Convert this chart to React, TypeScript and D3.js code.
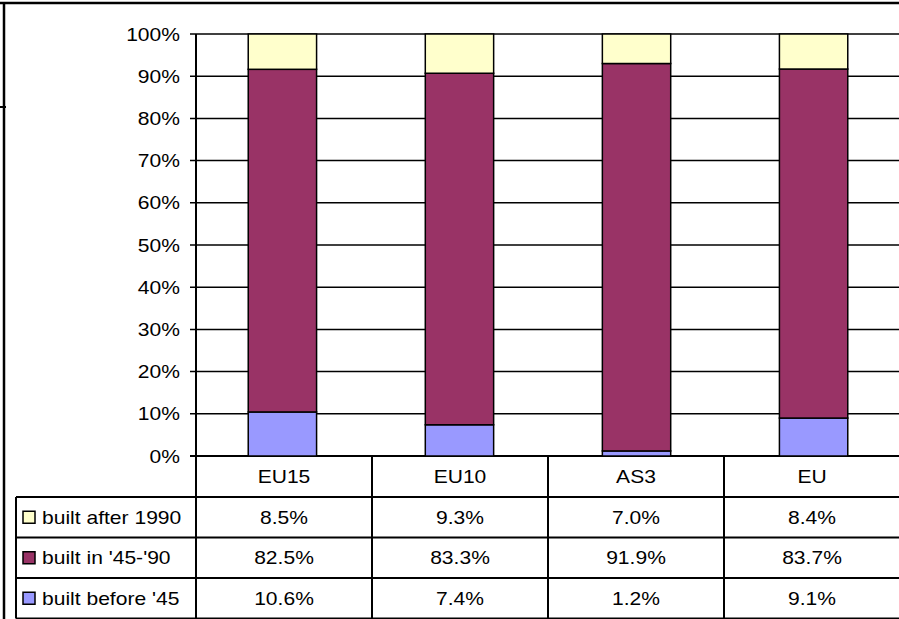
import React from 'react';
import * as d3 from 'd3';

const categories = ['EU15', 'EU10', 'AS3', 'EU'];
const builtBefore45 = [10.6, 7.4, 1.2, 9.1];
const built45to90 = [82.5, 83.3, 91.9, 83.7];
const builtAfter1990 = [8.5, 9.3, 7.0, 8.4];
const seriesKeys = ['before', 'mid', 'after'];
const seriesNames: Record<string, string> = {
  before: "built before '45",
  mid: "built in '45-'90",
  after: 'built after 1990',
};
const seriesColors: Record<string, string> = {
  before: '#9999FF',
  mid: '#993366',
  after: '#FFFFCC',
};
const yTicks = [0, 0.1, 0.2, 0.3, 0.4, 0.5, 0.6, 0.7, 0.8, 0.9, 1];

const W = 899;
const H = 619;
const FONT = 'Arial, "Liberation Sans", sans-serif';

// stretched text, the original was scaled wider than tall
const Label = ({ x, y, anchor, children }: any) => (
  <text
    transform={`translate(${x},${y}) scale(1.17,1)`}
    textAnchor={anchor || 'middle'}
    fontFamily={FONT}
    fontSize={18}
    fill="#000"
  >
    {children}
  </text>
);

const App = () => {
  const rows = categories.map((c, i) => ({
    cat: c,
    before: builtBefore45[i],
    mid: built45to90[i],
    after: builtAfter1990[i],
  }));

  const plotLeft = 196;
  const plotTop = 34;
  const plotBottom = 456;

  const x = d3.scaleBand().domain(categories).range([plotLeft, plotLeft + 176 * 4]).paddingInner(0).paddingOuter(0);
  const xBar = d3.scaleBand().domain(categories).range([plotLeft, plotLeft + 176 * 4]).paddingInner(0.614).paddingOuter(0.295);
  const y = d3.scaleLinear().domain([0, 1]).range([plotBottom, plotTop]);

  const stacked = d3.stack<any>().keys(seriesKeys).offset(d3.stackOffsetExpand)(rows);

  // table geometry
  const headerBottom = 497;
  const rowH = 40.5;
  const tableRows = ['after', 'mid', 'before'];
  const tableLeft = 16;
  const tableBottom = headerBottom + rowH * 3;

  const values: Record<string, number[]> = { before: builtBefore45, mid: built45to90, after: builtAfter1990 };

  return (
    <div style={{ position: 'absolute', left: 0, top: 0 }}>
      <svg width={W} height={H} style={{ display: 'block', background: '#fff' }}>
        {/* outer frame */}
        <line x1={0} x2={W} y1={3} y2={3} stroke="#000" strokeWidth={2.5} />
        <line x1={4} x2={4} y1={3} y2={H} stroke="#000" strokeWidth={2.5} />
        <line x1={0} x2={6} y1={107} y2={107} stroke="#000" strokeWidth={2} />

        {/* gridlines and ticks */}
        {yTicks.map((t) => (
          <g key={t}>
            <line x1={plotLeft - 6} x2={W} y1={y(t)} y2={y(t)} stroke="#000" strokeWidth={t === 0 ? 2 : 1.5} />
            <Label x={plotLeft - 16} y={y(t) + 6.5} anchor="end">
              {`${Math.round(t * 100)}%`}
            </Label>
          </g>
        ))}

        {/* bars */}
        {stacked.map((s) => (
          <g key={s.key}>
            {s.map((d, i) => (
              <rect
                key={i}
                x={xBar(categories[i])}
                width={xBar.bandwidth()}
                y={y(d[1])}
                height={y(d[0]) - y(d[1])}
                fill={seriesColors[s.key]}
                stroke="#000"
                strokeWidth={1.5}
              />
            ))}
          </g>
        ))}

        {/* value axis line */}
        <line x1={plotLeft} x2={plotLeft} y1={plotTop} y2={tableBottom} stroke="#000" strokeWidth={2} />

        {/* data table */}
        {categories.map((c, i) => (
          <g key={c}>
            {i > 0 && (
              <line x1={x(c)} x2={x(c)} y1={plotBottom} y2={tableBottom} stroke="#000" strokeWidth={2} />
            )}
            <Label x={(x(c) as number) + x.bandwidth() / 2} y={(plotBottom + headerBottom) / 2 + 6.5}>
              {c}
            </Label>
          </g>
        ))}
        {[0, 1, 2, 3].map((k) => (
          <line
            key={k}
            x1={tableLeft}
            x2={W}
            y1={headerBottom + rowH * k}
            y2={headerBottom + rowH * k}
            stroke="#000"
            strokeWidth={2}
          />
        ))}
        <line x1={tableLeft} x2={tableLeft} y1={headerBottom} y2={tableBottom} stroke="#000" strokeWidth={2} />
        {tableRows.map((key, r) => {
          const cy = headerBottom + rowH * r + rowH / 2;
          return (
            <g key={key}>
              <rect x={23} y={cy - 6} width={12} height={12} fill={seriesColors[key]} stroke="#000" strokeWidth={1.5} />
              <Label x={42} y={cy + 6.5} anchor="start">
                {seriesNames[key]}
              </Label>
              {categories.map((c, i) => (
                <Label key={c} x={(x(c) as number) + x.bandwidth() / 2} y={cy + 6.5}>
                  {`${values[key][i].toFixed(1)}%`}
                </Label>
              ))}
            </g>
          );
        })}
      </svg>
    </div>
  );
};

export default App;
